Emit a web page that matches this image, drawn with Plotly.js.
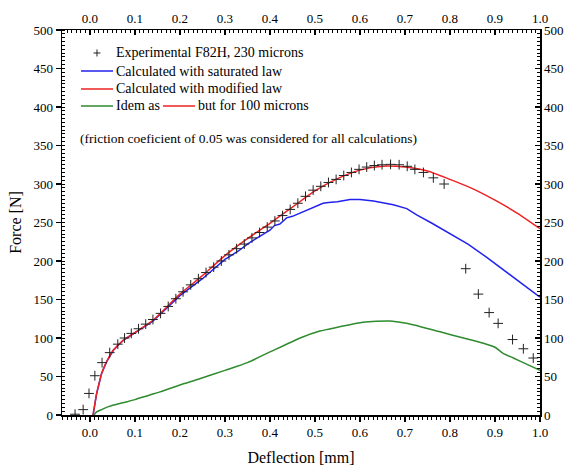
<!DOCTYPE html>
<html>
<head>
<meta charset="utf-8">
<script src="https://cdn.plot.ly/plotly-3.0.1.min.js"></script>
<style>html,body{margin:0;padding:0;background:#fff;}#chart{width:567px;height:468px;}</style>
</head>
<body>
<div id="chart"></div>
<script>
// Experimental F82H, 230 microns
const expX = [-0.033,-0.015,-0.002,0.011,0.027,0.044,0.062,0.077,0.092,0.108,0.124,0.140,0.157,0.174,0.191,0.207,0.224,0.241,0.258,0.275,0.292,0.309,0.326,0.343,0.360,0.377,0.394,0.411,0.428,0.445,0.462,0.479,0.496,0.513,0.530,0.547,0.564,0.581,0.598,0.615,0.632,0.649,0.668,0.687,0.705,0.722,0.741,0.763,0.787,0.835,0.863,0.887,0.907,0.939,0.963,0.985];
const expY = [1,7,28,51,68,81,92,100,106,112,118,124,132,141,151,160,169,177,185,192,200,208,216,222,230,237,244,252,259,267,275,284,292,297,302,306,311,315,319,322,324,325,325.5,325,323,319,315,308,300,190,157,133,119,98,86,74];

// Calculated with saturated law
const satX = [0.007,0.012,0.015,0.020,0.026,0.037,0.052,0.074,0.100,0.140,0.200,0.250,0.300,0.330,0.350,0.363,0.380,0.400,0.410,0.422,0.437,0.450,0.467,0.490,0.511,0.518,0.530,0.550,0.578,0.600,0.630,0.674,0.704,0.726,0.760,0.793,0.840,0.881,0.920,0.960,1.000];
const satY = [0,18,28,40,54,69,84,97,107,122,155,177,202,213,222,227,233,240,246,248,256,258,262,268,273,275,276,277,280,280,278,273,268,260,249,238,222,205,188,171,153];

// Calculated with modified law
const modX = [0.007,0.012,0.015,0.020,0.026,0.037,0.052,0.074,0.100,0.140,0.200,0.250,0.300,0.350,0.400,0.450,0.500,0.550,0.600,0.650,0.700,0.750,0.800,0.850,0.900,0.950,1.000];
const modY = [0,18,28,40,54,69,84,97,107,123,157,181,207,229,249,270,291,307,318,323,322,317,306,294,279,262,242];

// Idem as modified law but for 100 microns
const thinX = [0.009,0.015,0.026,0.044,0.060,0.081,0.100,0.133,0.156,0.200,0.244,0.300,0.350,0.393,0.430,0.467,0.511,0.550,0.607,0.667,0.720,0.778,0.830,0.881,0.900,0.918,0.941,0.970,1.000];
const thinY = [0,4,7,11.5,14,17,20,26,30,39,47,58,68,80,90,100,109,114,120.5,122,117,108,100,92,88,80,74,66,58];

const xTicks = [0.0,0.1,0.2,0.3,0.4,0.5,0.6,0.7,0.8,0.9,1.0];
const yTicks = [0,50,100,150,200,250,300,350,400,450,500];

const seriesNames = ['Experimental F82H, 230 microns', 'Calculated with saturated law', 'Calculated with modified law', 'Idem as', 'but for 100 microns'];
const noteText = '(friction coeficient of 0.05 was considered for all calculations)';

const FONT = 'Liberation Serif';
const GREEN = '#2e8b2e', BLUE = '#2222ee', RED = '#ee2222', INK = '#222';

const traces = [
  {x: thinX, y: thinY, mode: 'lines', type: 'scatter', line: {color: GREEN, width: 1.5, shape: 'spline', smoothing: 0.6}},
  {x: satX, y: satY, mode: 'lines', type: 'scatter', line: {color: BLUE, width: 1.5}},
  {x: modX, y: modY, mode: 'lines', type: 'scatter', line: {color: RED, width: 1.5, shape: 'spline', smoothing: 0.6}},
  {x: expX, y: expY, mode: 'markers', type: 'scatter',
   marker: {symbol: 'cross-thin', size: 7, line: {color: INK, width: 1}, color: INK}},
  {x: [null], y: [null], xaxis: 'x2', yaxis: 'y2', mode: 'markers', hoverinfo: 'skip'}
];

const axBase = {
  showgrid: false, zeroline: false, showline: true, linecolor: '#000', linewidth: 1.5,
  tickcolor: '#000', tickwidth: 1.2, ticklen: 5,
  tickfont: {family: FONT, size: 13, color: '#000'}
};

// legend geometry (paper coordinates)
const rowY = [0.9403, 0.8935, 0.8468, 0.8026];
const sx0 = 0.0397, sx1 = 0.1067, tx = 0.1088;
const legFont = {family: FONT, size: 14, color: '#000'};

const shapes = [
  // cross symbol
  {type: 'line', xref: 'paper', yref: 'paper', x0: 0.0659, x1: 0.0805, y0: rowY[0], y1: rowY[0], line: {color: INK, width: 1}},
  {type: 'line', xref: 'paper', yref: 'paper', x0: 0.0732, x1: 0.0732, y0: rowY[0] - 0.0091, y1: rowY[0] + 0.0091, line: {color: INK, width: 1}},
  {type: 'line', xref: 'paper', yref: 'paper', x0: sx0, x1: sx1, y0: rowY[1], y1: rowY[1], line: {color: BLUE, width: 1.5}},
  {type: 'line', xref: 'paper', yref: 'paper', x0: sx0, x1: sx1, y0: rowY[2], y1: rowY[2], line: {color: RED, width: 1.5}},
  {type: 'line', xref: 'paper', yref: 'paper', x0: sx0, x1: sx1, y0: rowY[3], y1: rowY[3], line: {color: GREEN, width: 1.5}},
  {type: 'line', xref: 'paper', yref: 'paper', x0: 0.2113, x1: 0.2782, y0: rowY[3], y1: rowY[3], line: {color: RED, width: 1.5}}
];

const ann = (text, x, y, font) => ({xref: 'paper', yref: 'paper', x: x, y: y, xanchor: 'left', yanchor: 'middle', showarrow: false, text: text, font: font});

const annotations = [
  ann(seriesNames[0], tx, rowY[0], legFont),
  ann(seriesNames[1], tx, rowY[1], legFont),
  ann(seriesNames[2], tx, rowY[2], legFont),
  ann(seriesNames[3], tx, rowY[3], legFont),
  ann(seriesNames[4], 0.2805, rowY[3], legFont),
  ann(noteText, 0.0334, 0.717, {family: FONT, size: 13.5, color: '#000'})
];

const layout = {
  width: 567, height: 468,
  margin: {l: 62, r: 27, t: 30, b: 53},
  paper_bgcolor: '#fff', plot_bgcolor: '#fff',
  font: {family: FONT, color: '#000'},
  showlegend: false,
  xaxis: Object.assign({}, axBase, {
    range: [-0.062, 1.0], tickvals: xTicks, tickformat: '.1f', ticks: 'outside',
    minor: {dtick: 0.01, tick0: 0, ticks: 'outside', ticklen: 3, tickcolor: '#000', tickwidth: 1},
    title: {text: 'Deflection [mm]', font: {family: FONT, size: 16, color: '#000'}, standoff: 12}
  }),
  xaxis2: Object.assign({}, axBase, {
    range: [-0.062, 1.0], tickvals: xTicks, tickformat: '.1f', ticks: 'inside',
    overlaying: 'x', side: 'top', anchor: 'y2',
    minor: {dtick: 0.01, tick0: 0, ticks: 'inside', ticklen: 3, tickcolor: '#000', tickwidth: 1}
  }),
  yaxis: Object.assign({}, axBase, {
    range: [0, 500], tickvals: yTicks, ticks: 'outside',
    minor: {dtick: 5, tick0: 0, ticks: 'inside', ticklen: 3, tickcolor: '#000', tickwidth: 1},
    title: {text: 'Force [N]', font: {family: FONT, size: 16, color: '#000'}, standoff: 8}
  }),
  yaxis2: Object.assign({}, axBase, {
    range: [0, 500], tickvals: yTicks, ticks: 'inside',
    overlaying: 'y', side: 'right', anchor: 'x2',
    minor: {dtick: 5, tick0: 0, ticks: 'inside', ticklen: 3, tickcolor: '#000', tickwidth: 1}
  }),
  shapes: shapes,
  annotations: annotations
};

Plotly.newPlot('chart', traces, layout, {displayModeBar: false, staticPlot: true});
</script>
</body>
</html>
